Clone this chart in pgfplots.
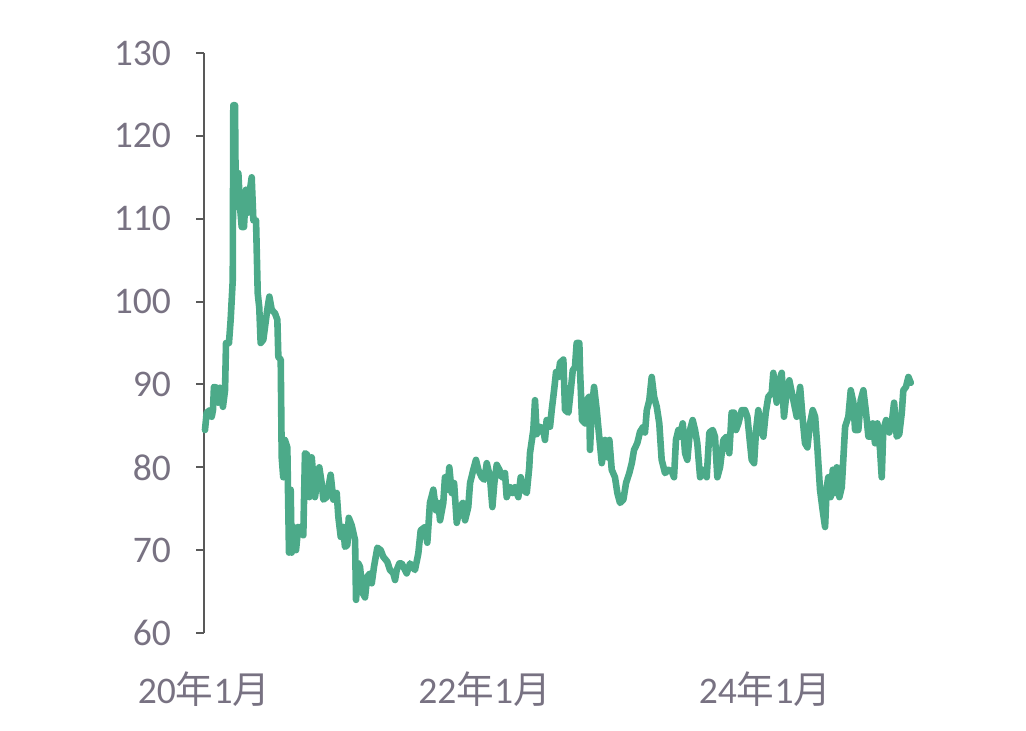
\documentclass[border=0pt]{standalone}
\usepackage{pgfplots}
\pgfplotsset{compat=1.18}
\usepackage{fontspec}
\setmainfont{Carlito}
\newfontfamily\cjk{Noto Sans CJK SC}
\definecolor{linegreen}{RGB}{76,170,137}
\definecolor{axisgrey}{RGB}{89,89,89}
\definecolor{labelgrey}{RGB}{120,114,130}
\pgfplotstableread{
t v
0.007 84.5
0.019 86.6
0.043 86.9
0.055 86.1
0.064 86.9
0.071 89.7
0.091 89.6
0.100 87.8
0.114 89.6
0.135 87.3
0.150 89.3
0.157 95.0
0.178 95.0
0.190 97.8
0.205 102.6
0.209 123.7
0.221 123.7
0.227 111.4
0.245 115.5
0.257 111.4
0.269 109.0
0.285 109.0
0.299 113.5
0.309 110.7
0.328 113.5
0.340 115.0
0.352 109.8
0.371 109.8
0.383 101.0
0.394 99.3
0.404 95.0
0.423 95.4
0.451 99.0
0.466 100.6
0.483 99.0
0.506 98.6
0.523 97.8
0.530 93.3
0.547 93.0
0.554 81.2
0.565 78.8
0.577 83.3
0.594 82.4
0.606 69.7
0.618 77.3
0.625 69.7
0.637 72.8
0.656 70.0
0.672 72.8
0.708 71.8
0.720 81.7
0.737 81.5
0.751 76.4
0.768 81.2
0.791 76.4
0.822 80.0
0.839 78.1
0.851 76.1
0.875 76.4
0.903 79.1
0.922 76.1
0.946 76.9
0.958 74.0
0.975 71.6
0.993 72.8
1.005 70.4
1.022 70.6
1.032 73.9
1.053 73.0
1.077 71.2
1.084 64.0
1.100 68.4
1.112 68.0
1.132 64.8
1.148 64.3
1.164 66.8
1.184 67.2
1.196 66.0
1.212 68.0
1.236 70.3
1.260 70.0
1.278 69.2
1.307 68.6
1.326 67.6
1.350 67.2
1.362 66.4
1.374 67.6
1.393 68.4
1.410 68.4
1.445 67.2
1.469 68.4
1.504 67.6
1.528 69.6
1.545 72.4
1.576 72.8
1.592 70.9
1.611 75.7
1.635 77.3
1.654 74.8
1.671 75.7
1.683 73.6
1.706 75.7
1.718 78.8
1.735 77.3
1.749 80.0
1.766 76.9
1.783 78.1
1.802 73.3
1.825 75.2
1.845 75.7
1.861 73.6
1.884 75.2
1.897 78.1
1.920 79.7
1.939 80.9
1.956 79.7
1.980 78.8
1.999 78.5
2.016 80.5
2.039 78.8
2.056 75.2
2.070 78.1
2.087 80.3
2.106 79.7
2.123 78.8
2.146 79.3
2.158 76.4
2.182 77.6
2.201 76.9
2.217 77.6
2.241 76.4
2.258 78.8
2.277 77.3
2.301 76.9
2.319 80.0
2.324 81.7
2.348 84.5
2.360 88.1
2.372 84.0
2.396 84.9
2.419 84.5
2.431 83.3
2.443 85.7
2.467 84.9
2.479 86.9
2.496 89.3
2.510 91.5
2.526 90.9
2.538 92.6
2.562 93.0
2.574 86.9
2.598 86.6
2.615 89.3
2.629 91.7
2.645 92.1
2.657 95.0
2.676 95.0
2.681 91.7
2.695 85.7
2.717 85.3
2.729 88.1
2.745 88.5
2.752 82.1
2.764 86.9
2.781 89.7
2.800 86.9
2.811 84.9
2.836 80.5
2.859 83.3
2.876 81.2
2.890 83.3
2.907 79.7
2.930 78.8
2.947 76.9
2.966 75.7
2.990 76.1
3.009 78.1
3.032 79.3
3.050 80.5
3.066 82.1
3.089 82.9
3.109 84.3
3.132 84.9
3.144 84.2
3.157 86.9
3.175 88.1
3.192 90.9
3.209 88.5
3.228 87.3
3.246 85.3
3.263 80.9
3.287 79.3
3.310 79.7
3.335 79.5
3.351 78.8
3.365 83.3
3.382 84.5
3.394 83.7
3.413 85.3
3.430 81.7
3.446 80.9
3.465 84.5
3.484 85.7
3.501 84.5
3.517 82.9
3.537 78.8
3.560 79.7
3.584 78.8
3.603 84.2
3.627 84.5
3.643 83.7
3.660 78.8
3.679 80.0
3.703 83.3
3.727 83.7
3.745 81.7
3.762 86.6
3.779 86.6
3.793 84.5
3.810 85.3
3.834 86.9
3.857 86.9
3.874 86.1
3.893 82.9
3.905 80.9
3.922 80.5
3.936 84.5
3.952 86.9
3.969 84.5
3.988 83.7
4.005 86.6
4.023 88.5
4.048 89.0
4.059 91.4
4.083 87.8
4.102 90.5
4.119 91.4
4.135 86.1
4.155 89.3
4.173 90.5
4.197 88.5
4.226 86.1
4.250 89.7
4.269 85.7
4.285 82.9
4.302 82.4
4.321 85.3
4.340 86.9
4.357 86.1
4.373 82.4
4.392 77.3
4.411 74.8
4.428 72.8
4.440 77.6
4.451 78.8
4.468 76.4
4.483 79.7
4.499 76.9
4.511 80.0
4.530 76.4
4.547 77.6
4.571 84.9
4.594 86.1
4.611 89.3
4.630 87.8
4.642 84.5
4.665 84.5
4.682 88.1
4.701 89.3
4.720 86.6
4.737 83.7
4.754 83.7
4.768 85.3
4.784 82.9
4.801 85.3
4.820 82.1
4.832 78.8
4.843 84.5
4.863 85.7
4.886 84.2
4.903 85.3
4.920 87.8
4.939 83.7
4.957 84.0
4.975 86.6
4.986 89.3
5.005 89.7
5.022 90.9
5.039 90.2
}\series
\begin{document}
\begin{tikzpicture}
\begin{axis}[
  name=main,
  scale only axis,
  width=354.15pt, height=290pt,
  xmin=0, xmax=5.05,
  ymin=60, ymax=130,
  axis lines*=left,
  x axis line style={draw=none},
  y axis line style={draw=axisgrey, line width=1pt},
  xtick={0,2,4},
  xticklabels={{20{\cjk 年}1{\cjk 月}},{22{\cjk 年}1{\cjk 月}},{24{\cjk 年}1{\cjk 月}}},
  xtick style={draw=none},
  ytick={60,70,...,130},
  ytick pos=left,
  tick align=outside,
  major tick length=4pt,
  ytick style={draw=axisgrey, line width=1pt},
  tick label style={font=\fontsize{18.8}{21}\selectfont, text=labelgrey},
  /pgf/number format/assume math mode=true,
  yticklabel style={xshift=-9pt},
  xticklabel style={yshift=-12pt},
  clip=false,
]
\addplot[linegreen, line width=3.3pt, line join=round, line cap=round] table[x=t, y=v] {\series};
\end{axis}
\pgfresetboundingbox
\path[use as bounding box] ([xshift=-102pt,yshift=-48.5pt]main.south west) rectangle ++(513pt,365pt);
\end{tikzpicture}
\end{document}
